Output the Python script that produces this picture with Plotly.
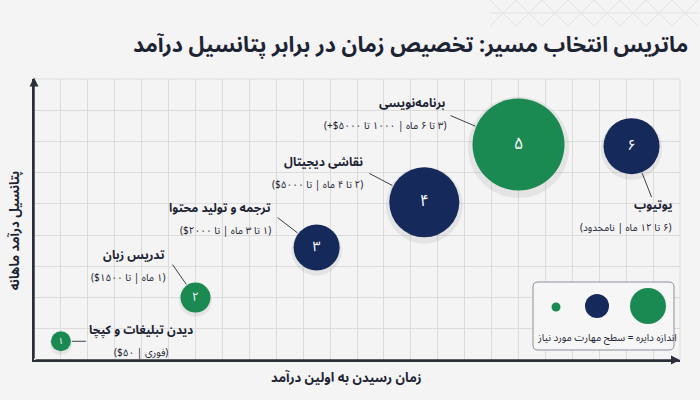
import math
import plotly.graph_objects as go

# ---------------- data ----------------
x_time = [1.0, 6.0, 10.5, 14.5, 18.0, 22.2]          # time to first income (grid units)
y_income = [0.6, 2.0, 3.6, 5.05, 6.9, 6.85]          # monthly income potential (grid units)
skill = [1.0, 1.5, 2.3, 3.5, 4.6, 2.8]               # required skill level -> bubble size
group = ["g", "g", "n", "n", "g", "n"]
numbers = ["۱", "۲", "۳", "۴", "۵", "۶"]
names = ["دیدن تبلیغات و کپچا", "تدریس زبان", "ترجمه و تولید محتوا",
         "نقاشی دیجیتال", "برنامه‌نویسی", "یوتیوب"]
details = ["(فوری | ۵۰$)", "(۱ ماه | تا ۱۵۰۰$)", "(۱ تا ۳ ماه | تا ۲۰۰۰$)",
           "(۲ تا ۴ ماه | تا ۵۰۰۰$)", "(۳ تا ۶ ماه | ۱۰۰۰ تا ۵۰۰۰$+)",
           "(۶ تا ۱۲ ماه | نامحدود)"]
title = "ماتریس انتخاب مسیر: تخصیص زمان در برابر پتانسیل درآمد"
x_title = "زمان رسیدن به اولین درآمد"
y_title = "پتانسیل درآمد ماهانه"
legend_text = "اندازه دایره = سطح مهارت مورد نیاز"

# ---------------- style ----------------
GREEN = "#1b8a52"
NAVY = "#15295a"
DARK = "#1c2333"
BG = "#f4f4f4"
GRID = "#dcdcdc"
FONT = "Noto Sans Arabic, Noto Sans, DejaVu Sans, sans-serif"
PX_PER_SKILL = 20  # diameter in px per skill unit

# label layout per bubble:
# (xanchor, xshift, name_yshift, detail_yshift, leader_dx, leader_dy [px, y up])
label_layout = [
    ("center", 80, 11, -11, 25, 0),
    ("right", -29, 42, 20, -23, 33),
    ("right", -44, 39, 17, -39, 30),
    ("right", -59, 40, 18, -55, 29),
    ("right", -71, 41, 19, -68, 29),
    ("right", 42, -59, -81, 20, -51),
]
num_sizes = [9, 12, 14, 16, 17, 15]


def rtl(s):
    return "\u202b" + s + "\u202c"


colors = [GREEN if g == "g" else NAVY for g in group]

fig = go.Figure()

# soft shadow
fig.add_trace(go.Scatter(
    x=x_time, y=[v - 0.09 for v in y_income], mode="markers",
    marker=dict(size=[s * 1.1 for s in skill], sizemode="diameter", sizeref=1 / PX_PER_SKILL,
                color="rgba(0,0,0,0.09)", line=dict(width=0)),
    hoverinfo="skip", showlegend=False))

fig.add_trace(go.Scatter(
    x=x_time, y=y_income, mode="markers+text",
    marker=dict(size=skill, sizemode="diameter", sizeref=1 / PX_PER_SKILL,
                color=colors, opacity=1, line=dict(width=0)),
    text=numbers, textposition="middle center",
    textfont=dict(color="white", size=num_sizes, family=FONT),
    hoverinfo="skip", showlegend=False))

annotations = []
shapes = []
for i in range(len(x_time)):
    xa, xs, ny, dy, ldx, ldy = label_layout[i]
    annotations.append(dict(x=x_time[i], y=y_income[i], xref="x", yref="y",
                            text="<b>" + rtl(names[i]) + "</b>", showarrow=False,
                            xanchor=xa, yanchor="middle", xshift=xs, yshift=ny,
                            font=dict(size=12, color=DARK, family=FONT)))
    annotations.append(dict(x=x_time[i], y=y_income[i], xref="x", yref="y",
                            text=rtl(details[i]), showarrow=False,
                            xanchor=xa, yanchor="middle", xshift=xs, yshift=dy,
                            font=dict(size=10, color=DARK, family=FONT)))
    # leader line from the label to the bubble edge
    rad = skill[i] * PX_PER_SKILL / 2 + 1
    d = math.hypot(ldx, ldy)
    ex, ey = ldx / d * rad, ldy / d * rad
    shapes.append(dict(type="line", xref="x", yref="y", xsizemode="pixel", ysizemode="pixel",
                       xanchor=x_time[i], yanchor=y_income[i], x0=ldx, y0=ldy, x1=ex, y1=ey,
                       line=dict(color="#3a3f4a", width=1)))

# axes with arrows
annotations.append(dict(x=0, y=9.05, xref="x", yref="y", ax=0, ay=0, axref="x", ayref="y",
                        text="", showarrow=True, arrowhead=2, arrowsize=1.2, arrowwidth=1.5,
                        arrowcolor="#2b2f38"))
annotations.append(dict(x=24.0, y=0, xref="x", yref="y", ax=0, ay=0, axref="x", ayref="y",
                        text="", showarrow=True, arrowhead=2, arrowsize=1.2, arrowwidth=1.5,
                        arrowcolor="#2b2f38"))

# titles
annotations.append(dict(x=1.016, y=1.12, xref="paper", yref="paper", text="<b>" + rtl(title) + "</b>",
                        showarrow=False, xanchor="right", yanchor="middle",
                        font=dict(size=21.5, color=DARK, family=FONT)))
annotations.append(dict(x=0.484, y=-0.064, xref="paper", yref="paper", text="<b>" + rtl(x_title) + "</b>",
                        showarrow=False, xanchor="center", yanchor="middle",
                        font=dict(size=13, color=DARK, family=FONT)))
annotations.append(dict(x=-0.03, y=0.46, xref="paper", yref="paper", text="<b>" + rtl(y_title) + "</b>",
                        showarrow=False, xanchor="center", yanchor="middle", textangle=-90,
                        font=dict(size=13, color=DARK, family=FONT)))

# legend box
W, H = 646, 281
def px(xp):
    return (xp - 34) / W
def py(yp):
    return (360 - yp) / H

x0, x1, y0, y1 = 533, 674, 282, 350
r = 5
path = (f"M {px(x0 + r)} {py(y0)} L {px(x1 - r)} {py(y0)} Q {px(x1)} {py(y0)} {px(x1)} {py(y0 + r)} "
        f"L {px(x1)} {py(y1 - r)} Q {px(x1)} {py(y1)} {px(x1 - r)} {py(y1)} "
        f"L {px(x0 + r)} {py(y1)} Q {px(x0)} {py(y1)} {px(x0)} {py(y1 - r)} "
        f"L {px(x0)} {py(y0 + r)} Q {px(x0)} {py(y0)} {px(x0 + r)} {py(y0)} Z")
shapes.append(dict(type="path", xref="paper", yref="paper", path=path,
                   fillcolor="#f6f6f6", line=dict(color="#8a8f99", width=1), layer="above"))
for cx, cy, rr, col in [(556, 307, 4.5, GREEN), (597, 306, 12, NAVY), (648, 306, 18, GREEN)]:
    shapes.append(dict(type="circle", xref="paper", yref="paper", xsizemode="pixel", ysizemode="pixel",
                       xanchor=px(cx), yanchor=py(cy), x0=-rr, x1=rr, y0=-rr, y1=rr,
                       fillcolor=col, line=dict(width=0), layer="above"))
annotations.append(dict(x=px(607), y=py(337), xref="paper", yref="paper", text=rtl(legend_text),
                        showarrow=False, xanchor="center", yanchor="middle",
                        font=dict(size=10, color=DARK, family=FONT)))

# top/right border of grid
shapes.append(dict(type="line", xref="paper", yref="paper", x0=0, x1=1, y0=1, y1=1,
                   line=dict(color=GRID, width=1), layer="below"))
shapes.append(dict(type="line", xref="paper", yref="paper", x0=1, x1=1, y0=0, y1=1,
                   line=dict(color=GRID, width=1), layer="below"))

# faint decorative lattice, top right
LAT = "#e3e3e3"
for k in range(8):
    xa_ = 490 + k * 26
    shapes.append(dict(type="line", xref="paper", yref="paper", x0=px(xa_), x1=px(xa_ + 26),
                       y0=py(0), y1=py(26), line=dict(color=LAT, width=1), layer="below"))
    shapes.append(dict(type="line", xref="paper", yref="paper", x0=px(xa_ + 26), x1=px(xa_),
                       y0=py(0), y1=py(26), line=dict(color=LAT, width=1), layer="below"))
shapes.append(dict(type="line", xref="paper", yref="paper", x0=px(490), x1=px(698),
                   y0=py(13), y1=py(13), line=dict(color=LAT, width=1), layer="below"))

fig.update_layout(
    width=700, height=400,
    margin=dict(l=34, r=20, t=79, b=40),
    paper_bgcolor=BG, plot_bgcolor=BG,
    xaxis=dict(range=[0, 24], dtick=1, showticklabels=False, showgrid=True, gridcolor=GRID,
               gridwidth=1, zeroline=False, showline=True, linecolor="#2b2f38", linewidth=1.5,
               fixedrange=True),
    yaxis=dict(range=[0, 9], dtick=1, showticklabels=False, showgrid=True, gridcolor=GRID,
               gridwidth=1, zeroline=False, showline=True, linecolor="#2b2f38", linewidth=1.5,
               fixedrange=True),
    annotations=annotations, shapes=shapes, showlegend=False,
)

fig.write_html("out.html", config={"displayModeBar": False},
               post_script="document.body.style.margin='0';document.body.style.background='#f4f4f4';")
